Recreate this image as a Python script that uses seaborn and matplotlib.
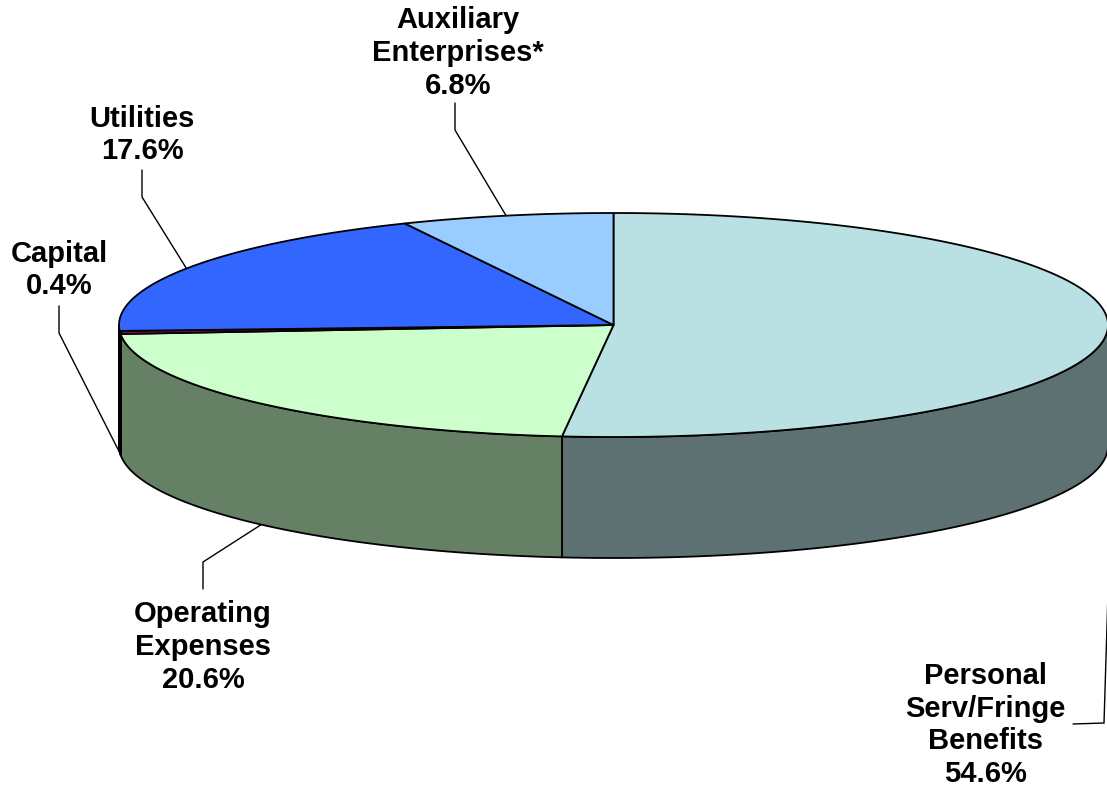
import numpy as np
import matplotlib
matplotlib.use("Agg")
import matplotlib.pyplot as plt
import seaborn as sns

# Budget shares, clockwise from twelve o'clock
categories = ["Personal\nServ/Fringe\nBenefits", "Operating\nExpenses", "Capital",
              "Utilities", "Auxiliary\nEnterprises*"]
shares = [54.6, 20.6, 0.4, 17.6, 6.8]
slice_colors = ["#B9E0E3", "#CCFFCC", "#990066", "#3366FF", "#99CCFF"]

# Disc geometry in pixels
CX, CY, RX, RY, DEPTH = 613.5, 325.0, 494.5, 112.0, 121.0
FORESHORTEN = 10.8  # degrees lost on the near half of the tilted disc

sns.set_theme(style="white")
plt.rcParams["font.family"] = ["Liberation Sans", "DejaVu Sans"]
palette = sns.color_palette(slice_colors)

fig = plt.figure(figsize=(11.07, 7.88), dpi=100)
ax = fig.add_axes([0, 0, 1, 1])
ax.set_xlim(0, 1107)
ax.set_ylim(788, 0)
ax.axis("off")


def view_angle(frac):
    """Screen angle in degrees, clockwise from the top, for a fraction of the pie."""
    deg = 360.0 * np.asarray(frac, dtype=float)
    return deg - FORESHORTEN * (1 - np.cos(np.radians(deg))) / 2


def rim(angle, drop=0.0):
    rad = np.radians(angle)
    return CX + RX * np.sin(rad), CY - RY * np.cos(rad) + drop


def rim_at(frac, drop=0.0):
    return rim(view_angle(frac), drop)


edges = np.concatenate([[0.0], np.cumsum(shares)]) / 100.0
edge_kw = dict(edgecolor="black", linewidth=1.3, joinstyle="round")

# Outer wall: only the part of each slice between 90 and 270 degrees faces the viewer
for start, stop, colour in zip(edges[:-1], edges[1:], palette):
    a0 = max(float(view_angle(start)), 90.0)
    a1 = min(float(view_angle(stop)), 270.0)
    if a1 <= a0:
        continue
    angles = np.linspace(a0, a1, 120)
    x, y = rim(angles)
    wall_x = np.concatenate([x, x[::-1]])
    wall_y = np.concatenate([y, (y + DEPTH)[::-1]])
    shade = tuple(c * 0.5 for c in colour)
    ax.fill(wall_x, wall_y, facecolor=shade, **edge_kw)

# Heavy edge where the wall turns away on the left
left_x, left_y = rim(270.0)
ax.plot([left_x + 1, left_x + 1], [left_y + 6, left_y + DEPTH + 6], color="black", lw=2.0)

# Top face
for start, stop, colour in zip(edges[:-1], edges[1:], palette):
    angles = np.linspace(view_angle(start), view_angle(stop), 200)
    x, y = rim(angles)
    ax.fill(np.concatenate([[CX], x]), np.concatenate([[CY], y]), facecolor=colour, **edge_kw)

# Labels: centre position of each text block, with its value underneath
label_centres = [(985, 725), (203, 647), (59, 270), (142, 135), (458, 53)]
for name, share, (lx, ly) in zip(categories, shares, label_centres):
    ax.text(lx, ly, f"{name}\n{share:.1f}%", ha="center", va="center", multialignment="center",
            fontsize=21, fontweight="bold", color="black", linespacing=1.22)

# Leader lines: text end, elbow, then a point on the slice's rim
leaders = [
    ((1073, 724), (1104, 723), (1108, 593)),
    ((203, 589), (203, 562), rim_at(0.65, DEPTH)),
    ((59, 306), (59, 333), rim_at(0.754, DEPTH)),
    ((142, 170), (142, 197), rim_at(0.841)),
    ((455, 103), (455, 130), rim_at(0.9655)),
]
for p0, p1, p2 in leaders:
    ax.plot([p0[0], p1[0], p2[0]], [p0[1], p1[1], p2[1]], color="black", lw=1.0,
            solid_joinstyle="miter", zorder=1)

fig.savefig("out.png", dpi=100, facecolor="white")
